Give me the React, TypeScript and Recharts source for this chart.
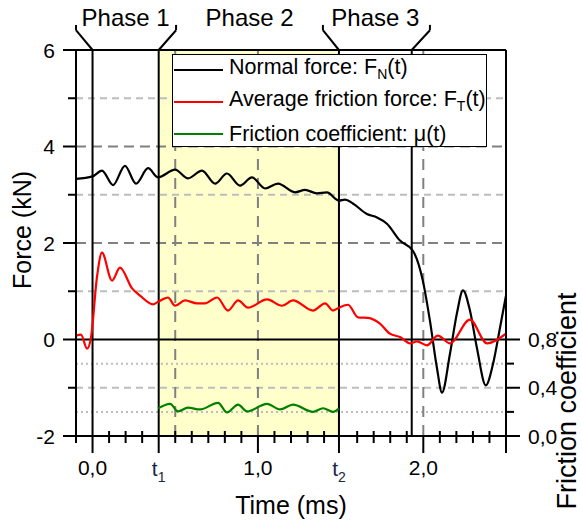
import { ComposedChart, Line, XAxis, YAxis, ReferenceLine, ReferenceArea, ReferenceDot } from 'recharts';

const FONT = '"Liberation Sans", Arial, Helvetica, sans-serif';

// Normal force F_N(t), kN
const normalTime = [-0.1, 0.0, 0.057, 0.124, 0.196, 0.263, 0.336, 0.396, 0.499, 0.577, 0.662, 0.741, 0.813, 0.892, 0.964, 1.043, 1.121, 1.224, 1.285, 1.357, 1.417, 1.49, 1.526, 1.574, 1.659, 1.72, 1.78, 1.859, 1.937, 1.997, 2.04, 2.082, 2.113, 2.161, 2.203, 2.24, 2.282, 2.324, 2.378, 2.422, 2.464, 2.5];
const normalForce = [3.33, 3.38, 3.5, 3.2, 3.6, 3.23, 3.55, 3.36, 3.52, 3.34, 3.5, 3.23, 3.44, 3.19, 3.36, 3.13, 3.23, 3.05, 3.1, 3.03, 3.05, 2.88, 2.9, 2.82, 2.6, 2.53, 2.4, 2.05, 1.84, 1.22, 0.39, -0.58, -1.1, -0.3, 0.54, 1.02, 0.6, -0.17, -0.95, -0.5, 0.25, 0.91];

// Average friction force F_T(t), kN
const frictionTime = [-0.1, -0.07, -0.033, -0.009, 0.027, 0.057, 0.118, 0.166, 0.239, 0.287, 0.366, 0.396, 0.456, 0.499, 0.559, 0.632, 0.68, 0.753, 0.819, 0.88, 0.94, 1.055, 1.146, 1.212, 1.333, 1.406, 1.454, 1.49, 1.545, 1.605, 1.665, 1.738, 1.798, 1.859, 1.919, 1.962, 2.022, 2.088, 2.161, 2.282, 2.385, 2.5];
const frictionForce = [0.08, 0.1, -0.19, 0.05, 1.3, 1.8, 1.22, 1.49, 1.06, 0.91, 0.73, 0.78, 0.87, 0.7, 0.81, 0.75, 0.75, 0.87, 0.6, 0.81, 0.66, 0.83, 0.7, 0.81, 0.6, 0.75, 0.6, 0.66, 0.72, 0.46, 0.45, 0.33, 0.12, 0.05, -0.08, -0.04, -0.12, 0.08, -0.08, 0.41, -0.08, 0.12];

// Friction coefficient mu(t)
const coefTime = [0.396, 0.469, 0.517, 0.577, 0.65, 0.759, 0.813, 0.88, 0.934, 1.055, 1.134, 1.212, 1.333, 1.394, 1.454, 1.49];
const coefValue = [0.229, 0.267, 0.204, 0.235, 0.22, 0.275, 0.195, 0.26, 0.204, 0.267, 0.22, 0.26, 0.2, 0.23, 0.2, 0.229];

const t1 = 0.4;
const t2 = 1.49;
const t3 = 1.93;

const xTicks = [-0.1, 0, 0.1, 0.2, 0.3, 0.4, 0.5, 0.6, 0.7, 0.8, 0.9, 1.0, 1.1, 1.2, 1.3, 1.4, 1.49, 1.6, 1.7, 1.8, 1.9, 2.0, 2.1, 2.2, 2.3, 2.4, 2.5];
const xMajor = [0, 0.4, 1.0, 1.49, 2.0, 2.5];
const xLabels: Record<string, string> = { '0': '0,0', '1': '1,0', '2': '2,0' };

const forceTicks = [-2, -1, 0, 1, 2, 3, 4, 5, 6];
const forceMajor = [-2, 0, 2, 4, 6];
const muTicks = [0, 0.2, 0.4, 0.6, 0.8];
const muMajor = [0, 0.4, 0.8];

const darkGridY = [2, 4];
const lightGridY = [-1, 1, 3, 5];
const dottedGridY = [-1.5, -0.5];
const darkGridX = [0.5, 1.0, 2.0];
const blackX = [0, t1, t2, t3];

const zip = (ts: number[], vs: number[]) => ts.map((t, i) => ({ t, v: vs[i] }));
const normalData = zip(normalTime, normalForce);
const frictionData = zip(frictionTime, frictionForce);
const coefData = zip(coefTime, coefValue);

// eslint-disable-next-line @typescript-eslint/no-explicit-any
const TimeTick = (props: any) => {
  const { x, y, payload } = props;
  const v = payload.value;
  const major = xMajor.includes(v);
  let label = null;
  if (v === t1 || v === t2) {
    label = (
      <text x={x} y={y + 40} textAnchor="middle" fontSize={21} fill="#1a2540" fontFamily={FONT}>
        t<tspan fontSize={14} dy={6}>{v === t1 ? '1' : '2'}</tspan>
      </text>
    );
  } else if (xLabels[String(v)]) {
    label = (
      <text x={x} y={y + 39} textAnchor="middle" fontSize={21} fill="#000" fontFamily={FONT}>
        {xLabels[String(v)]}
      </text>
    );
  }
  return (
    <g>
      <line x1={x} x2={x} y1={major ? y : y - 5} y2={major ? y + 17 : y + 7} stroke="#000" strokeWidth={2} />
      {label}
    </g>
  );
};

// eslint-disable-next-line @typescript-eslint/no-explicit-any
const ForceTick = (props: any) => {
  const { x, y, payload } = props;
  const v = payload.value;
  const major = forceMajor.includes(v);
  return (
    <g>
      <line x1={x - (major ? 13 : 8)} x2={x} y1={y} y2={y} stroke="#000" strokeWidth={2} />
      {major && (
        <text x={x - 21} y={y} dy="0.36em" textAnchor="end" fontSize={21} fill="#000" fontFamily={FONT}>
          {v}
        </text>
      )}
    </g>
  );
};

// eslint-disable-next-line @typescript-eslint/no-explicit-any
const MuTick = (props: any) => {
  const { x, y, payload } = props;
  const v = payload.value;
  const major = muMajor.includes(v);
  return (
    <g>
      <line x1={x} x2={x + (major ? 14 : 8)} y1={y} y2={y} stroke="#000" strokeWidth={2} />
      {major && (
        <text x={x + 22} y={y} dy="0.36em" textAnchor="start" fontSize={21} fill="#000" fontFamily={FONT}>
          {v.toFixed(1).replace('.', ',')}
        </text>
      )}
    </g>
  );
};

const legendItems = [
  { color: '#000000', text: 'Normal force: F', sub: 'N', tail: '(t)' },
  { color: '#ff0000', text: 'Average friction force: F', sub: 'T', tail: '(t)' },
  { color: '#008000', text: 'Friction coefficient: μ(t)', sub: '', tail: '' },
];

const bracket = (x0: number, x1: number) => [
  [{ x: x0, y: 6 }, { x: x1, y: 6.41 }],
  [{ x: x1, y: 6.41 }, { x: x1, y: 6.52 }],
];

const phaseLabels = [
  { x: 0.2, text: 'Phase 1' },
  { x: 0.95, text: 'Phase 2' },
  { x: 1.71, text: 'Phase 3' },
];

export default function App() {
  const segments = [
    ...bracket(0, -0.1),
    ...bracket(t1, 0.505),
    ...bracket(t2, 1.393),
    ...bracket(t3, 2.04),
  ];
  return (
    <div style={{ position: 'absolute', left: 0, top: 0, width: 582, height: 524, background: '#fff', fontFamily: FONT }}>
      <ComposedChart width={582} height={524} margin={{ top: 50, right: 0, bottom: 0, left: 0 }}>
        <XAxis
          dataKey="t"
          type="number"
          domain={[-0.1, 2.5]}
          ticks={xTicks}
          interval={0}
          height={88}
          tickSize={0}
          tickMargin={0}
          tickLine={false}
          tick={TimeTick}
          axisLine={{ stroke: '#000', strokeWidth: 2 }}
          allowDataOverflow
          label={{
            // eslint-disable-next-line @typescript-eslint/no-explicit-any
            content: (p: any) => (
              <text x={p.viewBox.x + p.viewBox.width / 2} y={p.viewBox.y + 78} textAnchor="middle" fontSize={25} fill="#000" fontFamily={FONT}>
                Time (ms)
              </text>
            ),
          }}
        />
        <YAxis
          yAxisId="left"
          type="number"
          domain={[-2, 6]}
          ticks={forceTicks}
          interval={0}
          width={76}
          tickSize={0}
          tickMargin={0}
          tickLine={false}
          tick={ForceTick}
          axisLine={{ stroke: '#000', strokeWidth: 2 }}
          label={{
            // eslint-disable-next-line @typescript-eslint/no-explicit-any
            content: (p: any) => {
              const cx = 31;
              const cy = p.viewBox.y + p.viewBox.height / 2 - 13;
              return (
                <text x={cx} y={cy} transform={`rotate(-90 ${cx} ${cy})`} textAnchor="middle" fontSize={25} fill="#000" fontFamily={FONT}>
                  Force (kN)
                </text>
              );
            },
          }}
        />
        <YAxis
          yAxisId="right"
          orientation="right"
          type="number"
          domain={[0, 3.2]}
          ticks={muTicks}
          interval={0}
          width={76}
          tickSize={0}
          tickMargin={0}
          tickLine={false}
          tick={MuTick}
          axisLine={{ stroke: '#000', strokeWidth: 2 }}
          label={{
            // eslint-disable-next-line @typescript-eslint/no-explicit-any
            content: (p: any) => {
              const cx = p.viewBox.x + 70;
              const cy = 401;
              return (
                <text x={cx} y={cy} transform={`rotate(-90 ${cx} ${cy})`} textAnchor="middle" fontSize={27} fill="#000" fontFamily={FONT}>
                  Friction coefficient
                </text>
              );
            },
          }}
        />

        <ReferenceArea yAxisId="left" x1={t1} x2={t2} y1={-2} y2={6} fill="#FFFFCC" fillOpacity={1} stroke="none" />

        {lightGridY.map((v) => (
          <ReferenceLine key={`lg${v}`} yAxisId="left" y={v} stroke="#bdbdbd" strokeWidth={2} strokeDasharray="7 5" />
        ))}
        {dottedGridY.map((v) => (
          <ReferenceLine key={`dg${v}`} yAxisId="left" y={v} stroke="#bdbdbd" strokeWidth={2} strokeDasharray="2 3" />
        ))}
        {darkGridY.map((v) => (
          <ReferenceLine key={`dy${v}`} yAxisId="left" y={v} stroke="#808080" strokeWidth={2} strokeDasharray="10 6" />
        ))}
        {darkGridX.map((v) => (
          <ReferenceLine key={`dx${v}`} yAxisId="left" x={v} stroke="#808080" strokeWidth={2} strokeDasharray="11 8" />
        ))}
        {blackX.map((v) => (
          <ReferenceLine key={`bx${v}`} yAxisId="left" x={v} stroke="#000" strokeWidth={2} />
        ))}
        <ReferenceLine yAxisId="left" y={0} stroke="#000" strokeWidth={2} />
        <ReferenceLine yAxisId="left" y={6} stroke="#000" strokeWidth={2} />

        {segments.map((s, i) => (
          <ReferenceLine key={`seg${i}`} yAxisId="left" segment={s} ifOverflow="visible" stroke="#000" strokeWidth={2} />
        ))}
        {phaseLabels.map((p) => (
          <ReferenceDot
            key={p.text}
            yAxisId="left"
            x={p.x}
            y={6.68}
            r={0}
            fill="none"
            stroke="none"
            ifOverflow="visible"
            label={{ value: p.text, position: 'center', fontSize: 24, fill: '#000', fontFamily: FONT }}
          />
        ))}

        <Line yAxisId="left" data={normalData} dataKey="v" type="monotone" stroke="#000" strokeWidth={2.2} dot={false} activeDot={false} isAnimationActive={false} />
        <Line yAxisId="left" data={frictionData} dataKey="v" type="monotone" stroke="#ff0000" strokeWidth={2.2} dot={false} activeDot={false} isAnimationActive={false} />
        <Line yAxisId="right" data={coefData} dataKey="v" type="monotone" stroke="#008000" strokeWidth={2.2} dot={false} activeDot={false} isAnimationActive={false} />
      </ComposedChart>

      <div
        style={{
          position: 'absolute',
          left: 172,
          top: 54,
          width: 315,
          height: 93,
          boxSizing: 'border-box',
          border: '1.5px solid #000',
          background: '#fff',
        }}
      >
        {legendItems.map((item, i) => (
          <div key={item.text} style={{ position: 'absolute', left: 0, top: 15 + i * 32 - 16, height: 32, display: 'flex', alignItems: 'center', whiteSpace: 'nowrap' }}>
            <span style={{ display: 'inline-block', width: 49, height: 2, marginLeft: 1, background: item.color }} />
            <span style={{ marginLeft: 6, fontSize: 21.5, color: '#000', lineHeight: '32px' }}>
              {item.text}
              {item.sub && <sub style={{ fontSize: 14, verticalAlign: '-5px' }}>{item.sub}</sub>}
              {item.tail}
            </span>
          </div>
        ))}
      </div>
    </div>
  );
}
